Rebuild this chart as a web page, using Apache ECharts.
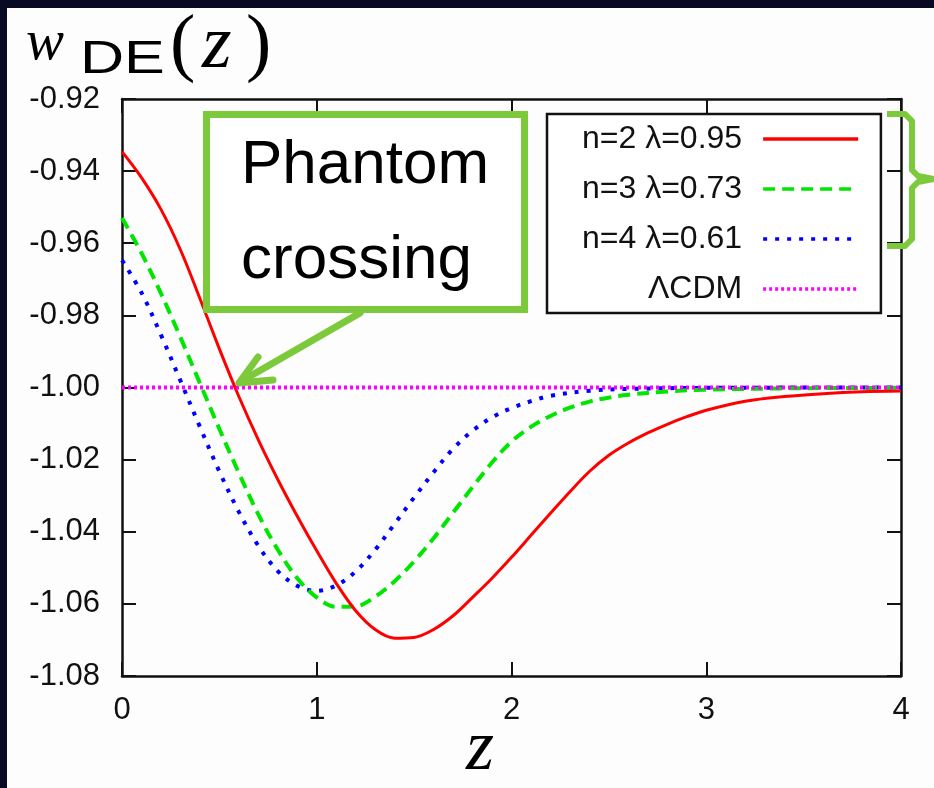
<!DOCTYPE html>
<html>
<head>
<meta charset="utf-8">
<script src="https://cdn.jsdelivr.net/npm/echarts@6/dist/echarts.min.js"></script>
<style>
  html, body { margin: 0; padding: 0; background: #070a22; }
  #chart { width: 934px; height: 788px; }
</style>
</head>
<body>
<div id="chart"></div>
<script>
// series names (legend)
const names = ['n=2 λ=0.95', 'n=3 λ=0.73', 'n=4 λ=0.61', 'ΛCDM'];

// n=2, lambda=0.95 (red, solid)
const zRed = [0, 0.1, 0.2, 0.3, 0.4, 0.5, 0.6, 0.7, 0.8, 0.9, 1.0, 1.1, 1.2, 1.3, 1.4, 1.5, 1.6, 1.7, 1.8, 1.9, 2.0, 2.1, 2.2, 2.3, 2.4, 2.5, 2.6, 2.7, 2.8, 2.9, 3.0, 3.2, 3.4, 3.6, 3.8, 4.0];
const wRed = [-0.9346, -0.9418, -0.9506, -0.9618, -0.9753, -0.9893, -1.0025, -1.0145, -1.0255, -1.0357, -1.0453, -1.0543, -1.0619, -1.0671, -1.0695, -1.0693, -1.0671, -1.0633, -1.0582, -1.0529, -1.0471, -1.0410, -1.0349, -1.0289, -1.0233, -1.0188, -1.0154, -1.0126, -1.0102, -1.0081, -1.0063, -1.0038, -1.0025, -1.0017, -1.0012, -1.0010];

// n=3, lambda=0.73 (green, dashed)
const zGreen = [0, 0.1, 0.2, 0.3, 0.4, 0.5, 0.6, 0.7, 0.8, 0.9, 1.0, 1.1, 1.2, 1.3, 1.4, 1.5, 1.6, 1.7, 1.8, 1.9, 2.0, 2.1, 2.2, 2.3, 2.4, 2.5, 2.6, 2.8, 3.0, 3.5, 4.0];
const wGreen = [-0.9530, -0.9627, -0.9739, -0.9861, -0.9988, -1.0115, -1.0237, -1.0352, -1.0450, -1.0529, -1.0582, -1.0608, -1.0607, -1.0580, -1.0537, -1.0482, -1.0418, -1.0347, -1.0276, -1.0208, -1.0150, -1.0109, -1.0079, -1.0056, -1.0039, -1.0028, -1.0020, -1.0011, -1.0006, -1.0002, -1.0001];

// n=4, lambda=0.61 (blue, dotted)
const zBlue = [0, 0.1, 0.2, 0.3, 0.4, 0.5, 0.6, 0.7, 0.8, 0.9, 1.0, 1.1, 1.2, 1.3, 1.4, 1.5, 1.6, 1.7, 1.8, 1.9, 2.0, 2.1, 2.2, 2.4, 2.6, 3.0, 4.0];
const wBlue = [-0.9647, -0.9737, -0.9854, -0.9981, -1.0109, -1.0233, -1.0345, -1.0439, -1.0509, -1.0550, -1.0564, -1.0549, -1.0510, -1.0450, -1.0378, -1.0305, -1.0235, -1.0170, -1.0120, -1.0083, -1.0057, -1.0038, -1.0023, -1.0009, -1.0004, -1.0001, -1.0000];

// LambdaCDM (magenta, dotted)
const zLcdm = [0, 4];
const wLcdm = [-1.0, -1.0];

const xTicks = [0, 1, 2, 3, 4];
const yTicks = [-1.08, -1.06, -1.04, -1.02, -1.00, -0.98, -0.96, -0.94, -0.92];

const green = '#7cc93c';
const sans = '"Liberation Sans", Arial, sans-serif';
const serif = '"Liberation Serif", "Times New Roman", serif';

function pairs(xs, ys) {
    return xs.map(function (x, i) { return [x, ys[i]]; });
}

let myChart = echarts.init(document.getElementById('chart'));

let axisLineStyle = { color: '#111', width: 2.5 };
let tickStyle = { color: '#111', width: 2 };

let option = {
    backgroundColor: '#070a22',
    animation: false,
    grid: {
        left: 122,
        right: 33,
        top: 99,
        bottom: 112,
        outerBoundsMode: 'none'
    },
    legend: {
        orient: 'vertical',
        left: 547,
        top: 114,
        align: 'right',
        data: names,
        selectedMode: false,
        backgroundColor: '#ffffff',
        borderColor: '#111',
        borderWidth: 2.5,
        borderRadius: 0,
        padding: [7, 21, 6, 35],
        itemGap: 14,
        itemWidth: 95,
        itemHeight: 14,
        itemStyle: { opacity: 0 },
        lineStyle: { width: 3.5 },
        textStyle: {
            fontFamily: sans,
            fontSize: 32,
            lineHeight: 36,
            color: '#111',
            padding: [0, 16, 0, 0]
        },
        z: 10
    },
    xAxis: [
        {
            type: 'value',
            min: xTicks[0],
            max: xTicks[xTicks.length - 1],
            interval: 1,
            axisLine: { show: true, onZero: false, lineStyle: axisLineStyle },
            axisTick: { show: true, inside: true, length: 14, lineStyle: tickStyle },
            axisLabel: { fontFamily: sans, fontSize: 31, color: '#111', margin: 19 },
            splitLine: { show: false }
        },
        {
            type: 'value',
            position: 'top',
            min: xTicks[0],
            max: xTicks[xTicks.length - 1],
            interval: 1,
            axisLine: { show: true, onZero: false, lineStyle: axisLineStyle },
            axisTick: { show: true, inside: true, length: 14, lineStyle: tickStyle },
            axisLabel: { show: false },
            splitLine: { show: false }
        }
    ],
    yAxis: [
        {
            type: 'value',
            min: yTicks[0],
            max: yTicks[yTicks.length - 1],
            interval: 0.02,
            axisLine: { show: true, onZero: false, lineStyle: axisLineStyle },
            axisTick: { show: true, inside: true, length: 14, lineStyle: tickStyle },
            axisLabel: {
                fontFamily: sans, fontSize: 31, color: '#111', margin: 22,
                formatter: function (v) { return v.toFixed(2); }
            },
            splitLine: { show: false }
        },
        {
            type: 'value',
            position: 'right',
            min: yTicks[0],
            max: yTicks[yTicks.length - 1],
            interval: 0.02,
            axisLine: { show: true, onZero: false, lineStyle: axisLineStyle },
            axisTick: { show: true, inside: true, length: 14, lineStyle: tickStyle },
            axisLabel: { show: false },
            splitLine: { show: false }
        }
    ],
    series: [
        {
            name: names[0], type: 'line', symbol: 'none', smooth: 0.35,
            data: pairs(zRed, wRed),
            lineStyle: { color: '#ff0000', width: 3 },
            itemStyle: { color: '#ff0000' }, z: 5
        },
        {
            name: names[1], type: 'line', symbol: 'none', smooth: 0.35,
            data: pairs(zGreen, wGreen),
            lineStyle: { color: '#00e600', width: 4, type: [12, 7] },
            itemStyle: { color: '#00e600' }, z: 4
        },
        {
            name: names[2], type: 'line', symbol: 'none', smooth: 0.35,
            data: pairs(zBlue, wBlue),
            lineStyle: { color: '#0000ff', width: 4, type: [4, 8] },
            itemStyle: { color: '#0000ff' }, z: 3
        },
        {
            name: names[3], type: 'line', symbol: 'none',
            data: pairs(zLcdm, wLcdm),
            lineStyle: { color: '#ff00ff', width: 4, type: [3, 3] },
            itemStyle: { color: '#ff00ff' }, z: 6
        }
    ],
    graphic: [
        // white panel behind the plot
        {
            type: 'rect', z: -100, silent: true,
            shape: { x: 7, y: 8, width: 927, height: 780 },
            style: { fill: '#fdfdfd' }
        },
        // title w_DE(z)
        {
            type: 'text', z: 100, x: 26, y: 44,
            style: { text: 'w', font: 'italic 57px ' + serif, fill: '#000', verticalAlign: 'middle' }
        },
        {
            type: 'text', z: 100, x: 80, y: 60, scaleX: 1.3, originX: 0,
            style: { text: 'DE', font: '47px ' + sans, fill: '#000', verticalAlign: 'middle' }
        },
        {
            type: 'text', z: 100, x: 170, y: 47,
            style: { text: '(', font: '76px ' + serif, fill: '#000', verticalAlign: 'middle' }
        },
        {
            type: 'text', z: 100, x: 202, y: 47,
            style: { text: 'z', font: 'italic 76px ' + serif, fill: '#000', verticalAlign: 'middle' }
        },
        {
            type: 'text', z: 100, x: 246, y: 47,
            style: { text: ')', font: '76px ' + serif, fill: '#000', verticalAlign: 'middle' }
        },
        // x axis label
        {
            type: 'text', z: 100, x: 480, y: 750,
            style: { text: 'z', font: 'italic 72px ' + serif, fill: '#000', align: 'center', verticalAlign: 'middle' }
        },
        // "Phantom crossing" callout
        {
            type: 'rect', z: 100,
            shape: { x: 206.5, y: 114.5, width: 318, height: 195 },
            style: { fill: '#ffffff', stroke: green, lineWidth: 7 }
        },
        {
            type: 'text', z: 101, x: 241, y: 166,
            style: { text: 'Phantom', font: '62px ' + sans, fill: '#000', verticalAlign: 'middle' }
        },
        {
            type: 'text', z: 101, x: 241, y: 261,
            style: { text: 'crossing', font: '62px ' + sans, fill: '#000', verticalAlign: 'middle' }
        },
        {
            type: 'polyline', z: 100,
            shape: { points: [[360, 313], [240, 382]] },
            style: { stroke: green, lineWidth: 7, lineCap: 'round', fill: null }
        },
        {
            type: 'polyline', z: 100,
            shape: { points: [[258, 357], [239, 383], [273, 380]] },
            style: { stroke: green, lineWidth: 7, lineCap: 'round', lineJoin: 'round', fill: null }
        },
        // bracket next to the legend
        {
            type: 'polyline', z: 100,
            shape: { points: [[887, 114], [905, 114], [912, 121], [912, 170], [918, 176], [934, 179]] },
            style: { stroke: green, lineWidth: 6, lineJoin: 'round', fill: null }
        },
        {
            type: 'polyline', z: 100,
            shape: { points: [[934, 179], [918, 182], [912, 188], [912, 239], [905, 246], [887, 246]] },
            style: { stroke: green, lineWidth: 6, lineJoin: 'round', fill: null }
        }
    ]
};

myChart.setOption(option);
</script>
</body>
</html>
